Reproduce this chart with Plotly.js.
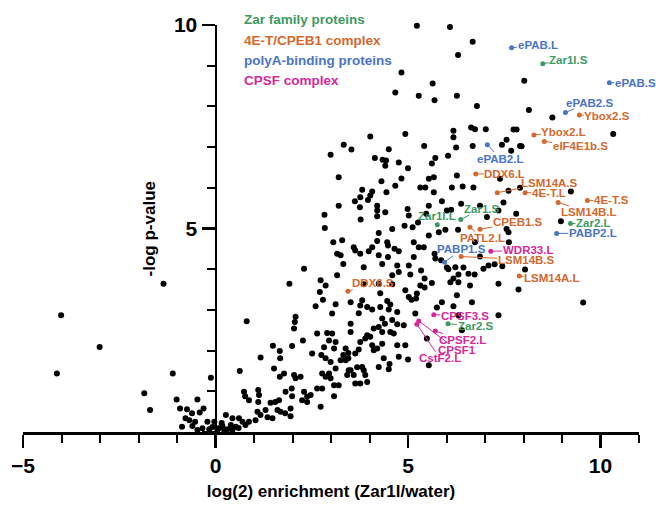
<!DOCTYPE html>
<html><head><meta charset="utf-8">
<script src="https://cdn.plot.ly/plotly-3.0.1.min.js"></script>
<style>html,body{margin:0;padding:0;background:#fff}#chart{width:656px;height:506px}</style>
</head><body><div id="chart"></div>
<script>
// ---- background proteins (black), grouped by region of the plot ----
const aX=[-4.01,-3.01,-4.12,-1.35,-1.85,-1.70,-1.11,-1.01,-0.47,-0.12,-0.92,-0.74,-0.31,-0.61,-0.78,-0.41,-0.68,-0.53,-0.87,-0.60,-0.21,-0.03,-0.34,-0.16,-0.47,-0.08];
const aY=[2.87,2.09,1.44,3.64,0.95,0.54,1.44,0.80,0.80,1.33,0.58,0.56,0.58,0.46,0.34,0.48,0.29,0.25,0.13,0.15,0.25,0.25,0.09,0.07,0.05,0.12];
const bX=[0.81,0.63,1.17,1.49,1.67,1.68,1.52,1.67,0.74,0.77,0.87,1.11,1.13,1.11,1.09,1.30,1.43,1.55,1.65,1.61,1.69,0.27,0.44,0.61,0.40,0.53,0.70,0.78,0.87,1.04,1.17,1.35,1.48,0.10,0.18,0.31,0.05,0.23,0.44,0.60,0.16];
const bY=[2.72,1.50,1.83,2.12,1.99,1.81,1.56,1.36,0.99,0.88,0.78,1.03,0.91,0.74,0.50,0.54,0.72,0.74,0.78,0.54,0.50,0.42,0.34,0.34,0.17,0.13,0.25,0.17,0.25,0.29,0.42,0.36,0.34,0.10,0.15,0.07,0.05,0.02,0.05,0.10,0.22];
const cX=[2.30,1.92,3.32,3.85,4.33,4.72,5.02,5.34,4.59,4.76,
5.06,3.16,2.73,2.86,3.85,4.24,4.59,5.32,4.93,5.23,
2.71,4.28,3.81,3.51,2.79,2.60,3.12,3.76,3.94,4.07,
4.28,4.46,4.54,5.02,5.09,5.21,3.03,3.72,4.50,4.72,
5.19,2.08,2.06,2.04,4.33,4.40,4.59,4.72,4.89,3.51,
3.51,4.11,4.24,3.94,4.02,4.33,4.54,4.63,2.64,2.90,
3.03,2.95,3.12,2.82,3.08,2.27,1.99,2.51,2.75,2.86,
3.38,3.45,3.63,3.72,3.76,3.89,4.07,4.11,4.20,4.33,
4.37,4.72,4.76,4.93,5.00,4.52,4.50,4.24,3.81,3.68,
3.51,3.59,3.85,3.89,3.76,3.94,3.38,3.25,3.32,3.45,
2.99,3.12,2.77,2.95,2.86,2.99,3.08,3.20,3.42,3.46,
3.63,2.77,2.64,2.04,2.08,2.21,1.78,1.82,1.99,2.30,
2.38,2.47,2.25,2.38,1.95,1.95,2.73,3.08,1.98,1.81];
const cY=[4.01,3.64,4.13,4.05,4.13,4.09,4.09,3.97,3.85,3.93,
3.87,3.85,3.73,3.60,3.63,3.64,3.63,3.60,3.48,3.40,
3.44,3.41,3.24,3.19,3.25,3.09,3.14,3.11,3.07,3.01,
3.07,3.22,3.13,3.32,3.25,3.28,2.91,2.92,3.01,2.95,
2.91,2.83,2.70,2.54,2.79,2.66,2.75,2.65,2.62,2.66,
2.46,2.54,2.58,2.38,2.34,2.46,2.46,2.42,2.42,2.43,
2.42,2.25,2.21,2.08,2.05,2.25,2.11,1.93,1.89,1.81,
2.05,1.94,1.93,2.03,2.21,2.30,2.13,2.01,2.05,2.17,
1.81,2.13,1.85,2.13,1.78,1.67,1.54,1.60,1.60,1.59,
1.52,1.40,1.52,1.40,1.19,1.23,1.76,1.76,1.89,1.81,
1.72,1.56,1.44,1.44,1.36,1.32,1.15,1.15,1.40,1.52,
1.19,1.07,1.07,1.40,1.32,1.36,1.44,0.99,0.88,0.99,
0.87,0.91,0.78,0.74,0.58,0.39,0.62,0.88,1.07,0.46];
const dX=[5.23,4.83,5.64,4.67,5.28,5.69,4.02,4.93,5.42,3.33,
3.53,2.99,4.50,4.14,4.34,4.43,4.41,4.76,5.00,5.62,
5.71,3.20,4.31,4.83,4.67,5.32,3.81,4.07,4.44,3.62,
3.76,4.02,3.96,3.20,3.75,4.20,4.20,4.20,4.41,4.99,
2.83,2.84,3.77,5.02,4.91,5.12,5.26,4.24,3.06,3.29,
3.59,3.63,3.76,4.07,4.20,4.46,4.48,4.65,4.76,5.15,
5.28,3.16,3.25,3.98,4.24,4.48,5.15,4.59];
const dY=[9.98,8.83,8.56,8.34,8.26,8.15,7.26,7.32,7.03,7.06,
6.94,6.81,6.95,6.73,6.69,6.67,6.54,6.62,6.48,6.60,
6.73,6.26,6.16,6.23,6.05,6.01,5.95,5.91,5.89,5.67,
5.77,5.81,5.70,5.56,5.52,5.56,5.44,5.30,5.40,5.48,
5.34,5.01,5.22,5.32,5.07,5.03,5.15,4.89,4.66,4.71,
4.54,4.46,4.38,4.54,4.69,4.66,4.58,4.50,4.44,4.66,
4.54,4.38,4.34,4.44,4.34,4.30,4.30,4.99];
const eX=[6.09,6.68,6.30,8.02,6.27,6.79,8.14,8.75,6.18,6.18,6.64,6.74,7.02,7.74,7.82,7.56,7.95,7.68,6.25,6.04,10.33,6.68,7.44,7.91];
const eY=[9.95,9.59,9.26,8.63,8.26,8.01,7.91,7.73,7.40,7.24,7.48,7.44,7.44,7.43,7.43,7.18,7.02,6.91,6.99,6.79,7.32,7.03,7.06,7.03];
const fX=[5.54,5.67,6.27,6.42,6.70,7.39,7.61,7.91,7.48,9.23,
7.81,5.54,5.88,6.01,6.38,7.35,7.05,8.97,5.47,
5.54,5.80,5.97,6.30,6.74,7.56,7.61,7.62,5.41,5.69,
5.71,5.86,6.01,6.05,6.23,6.44,6.31,6.57,6.73,6.87,
6.96,7.09,7.25,7.45,8.04,7.35,7.87,5.43,5.62,6.10,
6.18,6.31,5.43,6.27,6.61,9.55,5.88,6.18,6.66,5.75,
7.35,6.31,5.49,5.54,6.40,5.45,6.14,6.12,6.87,5.67];
const fY=[6.22,6.26,6.30,6.03,6.01,6.22,5.93,6.00,5.64,5.91,
5.36,5.56,5.67,5.44,5.61,5.44,5.28,5.18,5.36,
4.83,4.91,4.97,4.97,4.66,4.99,4.91,4.66,4.54,4.38,
4.26,4.22,4.04,4.00,4.05,4.04,3.87,3.89,3.87,4.31,
4.01,4.09,4.12,4.07,3.99,3.64,3.50,3.77,3.66,3.68,
3.77,3.68,3.55,3.36,3.60,3.18,3.19,3.09,3.19,3.06,
2.87,2.87,2.30,1.64,2.50,6.01,6.01,5.46,5.56,5.89];

// ---- highlighted proteins ----
const zarNames=["Zar1l.S","Zar2.L","Zar1.S","Zar1l.L","Zar2.S"];
const zarX=[8.50,9.22,6.37,5.76,6.04];
const zarY=[9.05,5.12,5.22,5.09,2.66];
const cpebNames=["Ybox2.S","Ybox2.L","eIF4E1b.S","DDX6.L","LSM14A.S","4E-T.L","4E-T.S","LSM14B.L","CPEB1.S","PATL2.L","LSM14B.S","LSM14A.L","DDX6.S"];
const cpebX=[9.45,8.27,8.54,6.76,7.32,8.04,9.66,8.90,6.87,6.61,6.38,7.89,3.44];
const cpebY=[7.79,7.30,7.14,6.34,5.88,5.88,5.69,5.64,4.98,5.03,4.31,3.83,3.46];
const pabNames=["ePAB.L","ePAB.S","ePAB2.S","ePAB2.L","PABP2.L","PABP1.S"];
const pabX=[7.69,10.23,9.09,7.06,8.86,5.95];
const pabY=[9.44,8.58,7.85,7.06,4.88,4.17];
const cpsfNames=["WDR33.L","CPSF3.S","CPSF2.L","CPSF1","CstF2.L"];
const cpsfX=[7.15,5.67,5.71,5.28,5.23];
const cpsfY=[4.44,2.88,2.48,2.73,2.65];
const groupNames=["Zar family proteins","4E-T/CPEB1 complex","polyA-binding proteins","CPSF complex"];

// ---- styling / label placement (pixel offsets of label from its point) ----
const COL={zar:"#3e9a63",cpeb:"#d2692e",pab:"#4a74c6",cpsf:"#d4289a"};
const OFF={"ePAB.L":[26,-3],"Zar1l.S":[26,-4],"ePAB.S":[26,0],"ePAB2.S":[24,-10],"Ybox2.S":[28,1],
"Ybox2.L":[30,-3],"eIF4E1b.S":[36,5],"ePAB2.L":[13,14],"DDX6.L":[29,0],"LSM14A.S":[52,-10],
"4E-T.L":[24,0],"4E-T.S":[24,0],"LSM14B.L":[31,10],"Zar2.L":[23,-1],"PABP2.L":[36,0],
"Zar1.S":[21,-11],"Zar1l.L":[0,-9],"CPEB1.S":[38,-7],"PATL2.L":[13,11],"PABP1.S":[17,-13],
"WDR33.L":[37,-1],"LSM14B.S":[65,3],"LSM14A.L":[33,2],"DDX6.S":[25,-8],"CPSF3.S":[31,1],
"Zar2.S":[27,2],"CPSF2.L":[27,9],"CPSF1":[38,29],"CstF2.L":[23,34]};
const FONT="Liberation Sans, Arial, sans-serif";

const blackX=[].concat(aX,bX,cX,dX,eX,fX);
const blackY=[].concat(aY,bY,cY,dY,eY,fY);

const traces=[{type:"scatter",mode:"markers",x:blackX,y:blackY,cliponaxis:false,
  marker:{color:"#000",size:6},hoverinfo:"skip"}];
const groups=[[zarNames,zarX,zarY,COL.zar],[cpebNames,cpebX,cpebY,COL.cpeb],[pabNames,pabX,pabY,COL.pab],[cpsfNames,cpsfX,cpsfY,COL.cpsf]];
const ann=[];
groups.forEach(g=>{
  traces.push({type:"scatter",mode:"markers",x:g[1],y:g[2],cliponaxis:false,text:g[0],
    marker:{color:g[3],size:5}});
  g[0].forEach((n,i)=>{
    const o=OFF[n]||[25,0];
    ann.push({x:g[1][i],y:g[2][i],xref:"x",yref:"y",text:"<b>"+n+"</b>",showarrow:true,
      ax:o[0],ay:o[1],arrowhead:0,arrowwidth:1,arrowcolor:g[3],standoff:0,startstandoff:0,
      font:{family:FONT,size:11.5,color:g[3]},borderpad:0});
  });
});
const legCols=[COL.zar,COL.cpeb,COL.pab,COL.cpsf];
const legY=[1.014,0.962,0.912,0.864];
groupNames.forEach((t,i)=>ann.push({xref:"paper",yref:"paper",x:0.3555,y:legY[i],xanchor:"left",yanchor:"middle",
  text:"<b>"+t+"</b>",showarrow:false,font:{family:FONT,size:13.5,color:legCols[i]}}));
ann.push({xref:"paper",yref:"paper",x:0.206,y:0.5,text:"<b>-log p-value</b>",textangle:-90,showarrow:false,
  xanchor:"center",yanchor:"middle",font:{family:FONT,size:17,color:"#000"}});

const layout={width:656,height:506,margin:{l:23,r:17,t:25,b:74},
  paper_bgcolor:"#fff",plot_bgcolor:"#fff",showlegend:false,
  font:{family:FONT,color:"#000"},
  xaxis:{range:[-5,11],showgrid:false,zeroline:false,showline:true,linecolor:"#000",linewidth:2.5,
    ticks:"outside",ticklen:13,tickwidth:2.5,tickcolor:"#000",tickmode:"linear",tick0:-5,dtick:5,
    tickfont:{family:FONT,size:21,weight:700},
    minor:{ticks:"outside",ticklen:8,tickwidth:2,tickcolor:"#000",dtick:1,tick0:0,showgrid:false},
    title:{text:"<b>log(2) enrichment (Zar1l/water)</b>",font:{family:FONT,size:17},standoff:10}},
  yaxis:{range:[0,10],anchor:"free",position:0.3125,showgrid:false,zeroline:false,showline:true,
    linecolor:"#000",linewidth:2.5,ticks:"outside",ticklen:13,tickwidth:2.5,tickcolor:"#000",
    tickmode:"array",tickvals:[0,5,10],ticktext:["","5","10"],
    tickfont:{family:FONT,size:21,weight:700},
    minor:{ticks:"outside",ticklen:8,tickwidth:2,tickcolor:"#000",dtick:1,tick0:0,showgrid:false}},
  annotations:ann};
Plotly.newPlot("chart",traces,layout,{displayModeBar:false,staticPlot:true});
</script></body></html>
